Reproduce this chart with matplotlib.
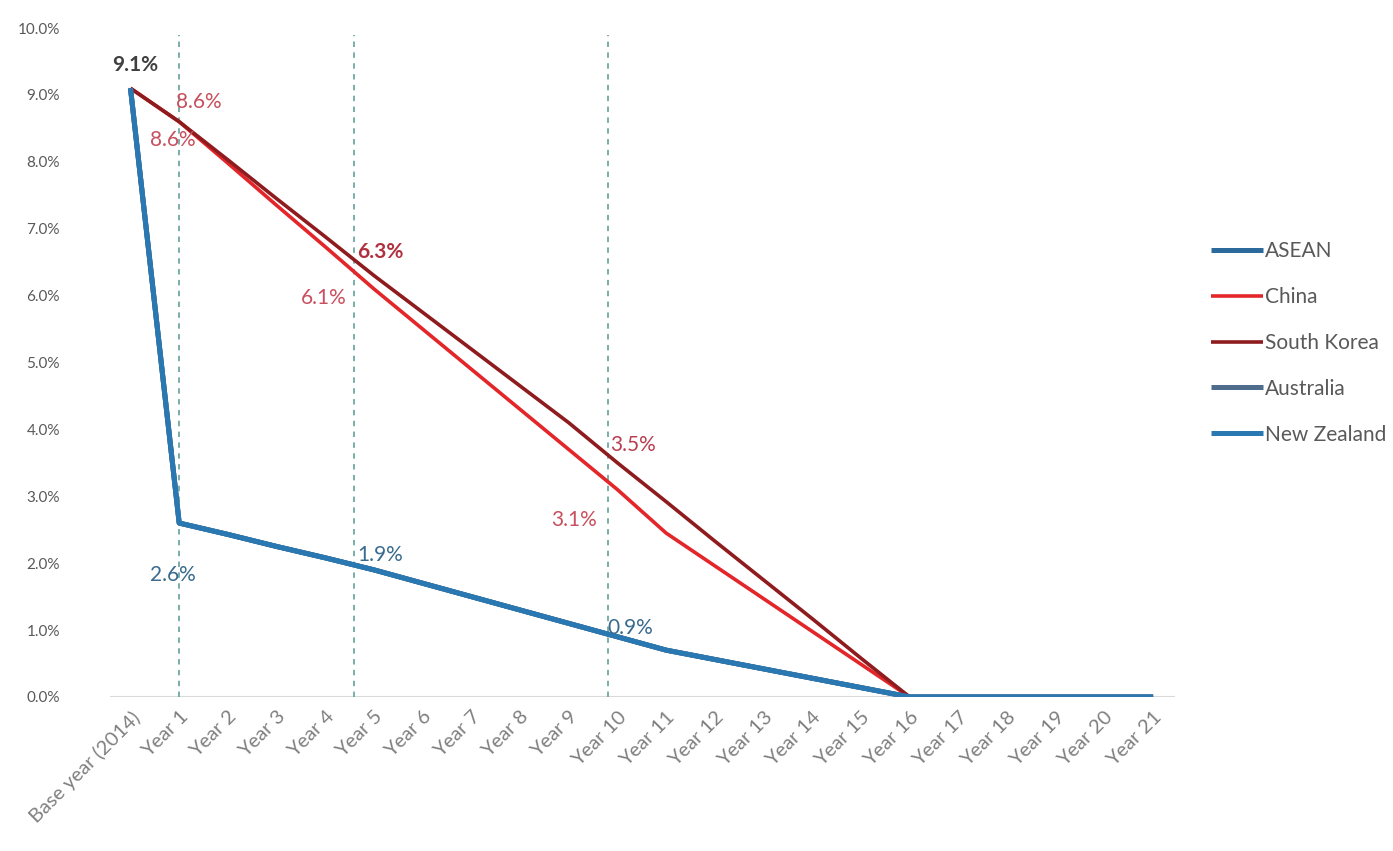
import matplotlib
matplotlib.use("Agg")
import matplotlib.pyplot as plt

categories = ["Base year (2014)"] + [f"Year {i}" for i in range(1, 22)]

asean = [9.1, 2.6, 2.43, 2.25, 2.08, 1.9, 1.7, 1.5, 1.3, 1.1, 0.9, 0.7, 0.56, 0.42, 0.28, 0.14,
         0, 0, 0, 0, 0, 0]
china = [9.1, 8.6, 7.98, 7.35, 6.73, 6.1, 5.5, 4.9, 4.3, 3.7, 3.1, 2.45, 1.96, 1.47, 0.98, 0.49,
         0, 0, 0, 0, 0, 0]
south_korea = [9.1, 8.6, 8.03, 7.45, 6.88, 6.3, 5.75, 5.2, 4.65, 4.1, 3.5, 2.92, 2.33, 1.75, 1.17, 0.58,
               0, 0, 0, 0, 0, 0]
australia = list(asean)
new_zealand = list(asean)

series_names = ["ASEAN", "China", "South Korea", "Australia", "New Zealand"]
series_values = [asean, china, south_korea, australia, new_zealand]
series_colors = ["#2B6A9B", "#E3262A", "#8E1B1E", "#4F6C8C", "#2A78B2"]
series_widths = [3.6, 2.6, 2.6, 3.6, 3.6]

yticks = [0, 1, 2, 3, 4, 5, 6, 7, 8, 9, 10]
dashed_positions = [1.0, 4.58, 9.8]

# (text, x, y, color, bold)
labels = [
    ("9.1%", 0.1, 9.45, "#404040", True),
    ("8.6%", 1.4, 8.9, "#C8505E", False),
    ("8.6%", 0.86, 8.33, "#C8505E", False),
    ("6.3%", 5.13, 6.65, "#B0303E", True),
    ("6.1%", 3.96, 5.96, "#C8505E", False),
    ("3.5%", 10.33, 3.77, "#B84050", False),
    ("3.1%", 9.1, 2.65, "#C8505E", False),
    ("2.6%", 0.86, 1.82, "#3A6B8E", False),
    ("1.9%", 5.13, 2.12, "#3A6B8E", False),
    ("0.9%", 10.27, 1.03, "#3A6B8E", False),
]

plt.rcParams["font.family"] = ["Lato", "DejaVu Sans"]

fig = plt.figure(figsize=(13.93, 8.51), dpi=100)
ax = fig.add_axes([0.079, 0.181, 0.7645, 0.786])

x = list(range(len(categories)))

for xp in dashed_positions:
    ax.plot([xp, xp], [0, 9.9], color="#6FA8A2", lw=1.3, ls=(0, (3, 3)), zorder=1)

ax.axhline(0, color="#D9D9D9", lw=1.5, zorder=0)

draw_order = [4, 3, 0, 2, 1]
handles = {}
for i in draw_order:
    h, = ax.plot(x, series_values[i], color=series_colors[i], lw=series_widths[i],
                 solid_joinstyle="round", solid_capstyle="butt", zorder=3 + i * 0.1)
    handles[i] = h

for text, lx, ly, col, bold in labels:
    ax.text(lx, ly, text, color=col, fontsize=15, ha="center", va="center",
            fontweight="bold" if bold else "normal", zorder=5)

ax.set_xlim(-0.42, 21.45)
ax.set_ylim(0, 10)
ax.set_yticks(yticks)
ax.set_yticklabels([f"{v:.1f}%" for v in yticks], color="#595959", fontsize=11)
ax.set_xticks(x)
ax.set_xticklabels(categories, rotation=45, ha="right", va="top", rotation_mode="anchor",
                   color="#808080", fontsize=14.5)
ax.tick_params(axis="both", length=0)
ax.tick_params(axis="x", pad=8)
ax.tick_params(axis="y", pad=36)
for s in ax.spines.values():
    s.set_visible(False)

leg = fig.legend([handles[i] for i in range(5)], series_names,
                 loc="center left", bbox_to_anchor=(0.856, 0.597), frameon=False,
                 fontsize=15, labelcolor="#595959", handlelength=2.5, handletextpad=0.1,
                 labelspacing=1.24)

fig.savefig("out.png", dpi=100, facecolor="white")
